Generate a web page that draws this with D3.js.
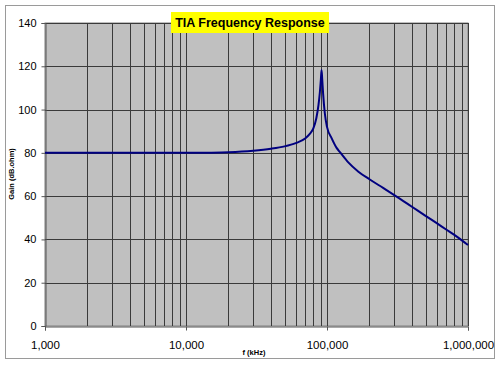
<!DOCTYPE html>
<html>
<head>
<meta charset="utf-8">
<script src="https://cdn.jsdelivr.net/npm/d3@7/dist/d3.min.js"></script>
<style>
html,body{margin:0;padding:0;background:#fff;}
svg{display:block;}
text{font-family:"Liberation Sans",Arial,sans-serif;}
</style>
</head>
<body>
<svg id="chart" width="500" height="366"></svg>
<script>
const freqs = [1000, 5000, 10000, 15000, 20000, 30000, 40000, 50000, 60000, 70000, 75000, 80000, 84000, 87000, 89000, 90500, 91500, 92500, 93800, 96500, 100000, 108000, 117000, 124000, 141000, 167000, 200000, 250000, 300000, 400000, 500000, 600000, 700000, 800000, 900000, 1000000];
const gains = [80, 80, 80, 80.1, 80.3, 81, 81.9, 83, 84.5, 86.6, 88.5, 91.3, 96, 102, 108, 114, 118.3, 114, 107.6, 98.3, 92, 86.7, 82.3, 80.2, 75.7, 71.3, 67.8, 63.8, 60.5, 55.1, 50.9, 47.5, 44.6, 42.1, 39.7, 37.4];
const xTickValues = [1000, 10000, 100000, 1000000];
const yTickValues = [0, 20, 40, 60, 80, 100, 120, 140];
const title = "TIA Frequency Response";
const xTitle = "f (kHz)";
const yTitle = "Gain (dB.ohm)";

const svg = d3.select("#chart");
const L = 45, R = 468, T = 23, B = 326;

// outer border
svg.append("rect").attr("x", 5.5).attr("y", 5.5).attr("width", 489).attr("height", 353)
  .attr("fill", "#fff").attr("stroke", "#9a9a9a").attr("stroke-width", 1);

const x = d3.scaleLog().domain([1000, 1000000]).range([L, R]);
const y = d3.scaleLinear().domain([0, 140]).range([B, T]);

// plot area
svg.append("rect").attr("x", L).attr("y", T).attr("width", R - L).attr("height", B - T)
  .attr("fill", "#c0c0c0").attr("stroke", "#808080");

// vertical grid (major + minor)
const vGrid = [];
for (let d = 1000; d < 1000000; d *= 10) {
  for (let k = 1; k <= 9; k++) vGrid.push(d * k);
}
vGrid.push(1000000);
svg.append("g").selectAll("line").data(vGrid.filter(v => v > 1000)).join("line")
  .attr("x1", d => Math.round(x(d)) + 0.5).attr("x2", d => Math.round(x(d)) + 0.5)
  .attr("y1", T).attr("y2", B)
  .attr("stroke", "#3a3a3a").attr("stroke-width", 1);

// horizontal grid
svg.append("g").selectAll("line").data(yTickValues.filter(v => v > 0)).join("line")
  .attr("x1", L).attr("x2", R)
  .attr("y1", d => Math.round(y(d)) + 0.5).attr("y2", d => Math.round(y(d)) + 0.5)
  .attr("stroke", "#3a3a3a").attr("stroke-width", 1);

// axes
const yAxis = d3.axisLeft(y).tickValues(yTickValues).tickSize(4).tickPadding(5).tickFormat(d3.format("d"));
const gy = svg.append("g").attr("transform", `translate(${L + 0.5},0)`).call(yAxis);
gy.selectAll("text").attr("font-size", 11).attr("fill", "#000").attr("font-family", "Liberation Sans, Arial, sans-serif");
gy.selectAll("line,path").attr("stroke", "#555");

const xAxis = d3.axisBottom(x).tickValues(xTickValues).tickSize(4).tickPadding(10).tickFormat(d3.format(","));
const gx = svg.append("g").attr("transform", `translate(0,${B + 0.5})`).call(xAxis);
gx.selectAll("text").attr("font-size", 11.5).attr("fill", "#000").attr("font-family", "Liberation Sans, Arial, sans-serif");
gx.selectAll("line,path").attr("stroke", "#555");

// curve
const line = d3.line().x((d, i) => x(freqs[i])).y(d => y(d)).curve(d3.curveMonotoneX);
svg.append("path").datum(gains).attr("d", line)
  .attr("fill", "none").attr("stroke", "#000080").attr("stroke-width", 2);

// title
svg.append("rect").attr("x", 171).attr("y", 12).attr("width", 158).attr("height", 21).attr("fill", "#ffff00");
svg.append("text").attr("x", 250).attr("y", 27).attr("text-anchor", "middle")
  .attr("font-size", 12.5).attr("font-weight", "bold").attr("fill", "#000").text(title);

// axis titles
svg.append("text").attr("x", 254).attr("y", 355).attr("text-anchor", "middle")
  .attr("font-size", 7.5).attr("font-weight", "bold").attr("fill", "#000").text(xTitle);
svg.append("text").attr("transform", "translate(14,174) rotate(-90)").attr("text-anchor", "middle")
  .attr("font-size", 7.5).attr("font-weight", "bold").attr("fill", "#000").text(yTitle);
</script>
</body>
</html>
